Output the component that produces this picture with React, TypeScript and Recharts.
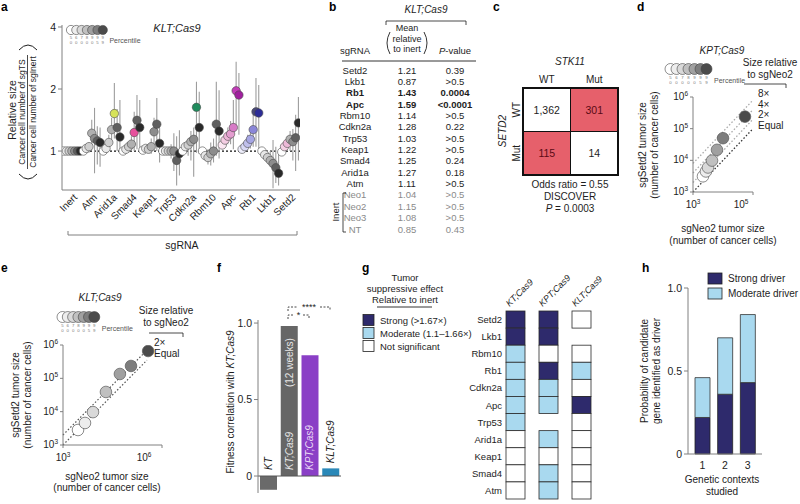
import React from 'react';
import {
  ScatterChart,
  Scatter,
  XAxis,
  YAxis,
  ErrorBar,
  ReferenceLine,
  BarChart,
  Bar,
  Cell,
  LabelList,
} from 'recharts';

const FONT = '"Liberation Sans", Arial, Helvetica, sans-serif';
const INK = '#1d1d1d';
const AXIS = '#808080';

// ---- a: relative tumour size per sgRNA at each percentile (KLT;Cas9)
const genesA = ['Inert', 'Atm', 'Arid1a', 'Smad4', 'Keap1', 'Trp53', 'Cdkn2a', 'Rbm10', 'Apc', 'Rb1', 'Lkb1', 'Setd2'];
const percentiles = [50, 60, 70, 80, 90, 95, 99];
const relSize = [
  [1, 1, 1, 1, 1, 1, 1],
  [1.0, 1.03, 1.05, 1.22, 1.15, 1.12, 1.1],
  [1.0, 1.03, 1.1, 1.27, 1.52, 1.3, 1.17],
  [1.0, 1.02, 1.05, 1.08, 1.23, 1.41, 1.3],
  [1.01, 1.03, 1.02, 1.05, 1.24, 1.35, 1.09],
  [1.0, 1.0, 1.0, 1.0, 1.0, 0.9, 0.97],
  [1.0, 1.05, 1.07, 1.11, 1.14, 1.63, 1.3],
  [1.0, 0.95, 0.93, 0.97, 1.0, 1.35, 1.25],
  [1.07, 1.13, 1.18, 1.21, 1.3, 1.96, 1.87],
  [1.02, 1.05, 1.09, 1.14, 1.27, 1.55, 1.53],
  [1.0, 0.96, 0.93, 0.9, 0.87, 0.83, 0.78],
  [0.99, 1.05, 1.09, 1.14, 1.11, 1.16, 1.37],
];
const relLow = [
  [1, 1, 1, 1, 1, 1, 1],
  [1.0, 1.0, 0.98, 1.02, 0.78, 0.86, 0.84],
  [1.0, 0.98, 1.0, 1.08, 1.15, 1.0, 0.98],
  [1.0, 0.98, 0.98, 1.0, 1.0, 1.02, 1.0],
  [1.0, 1.0, 0.99, 0.97, 1.02, 1.0, 0.88],
  [1.0, 0.98, 0.96, 0.92, 0.8, 0.68, 0.76],
  [1.0, 0.98, 0.95, 0.9, 0.75, 0.98, 0.97],
  [1.0, 0.9, 0.86, 0.85, 0.88, 0.95, 0.92],
  [1.02, 1.05, 1.08, 1.08, 1.02, 1.27, 1.2],
  [0.99, 1.0, 1.02, 1.03, 1.05, 1.05, 1.02],
  [1.0, 0.92, 0.88, 0.84, 0.66, 0.7, 0.68],
  [0.97, 0.98, 1.0, 1.0, 0.9, 0.8, 0.9],
];
const relHigh = [
  [1, 1, 1, 1, 1, 1, 1],
  [1.0, 1.06, 1.1, 1.42, 1.62, 1.32, 1.3],
  [1.0, 1.08, 1.2, 1.45, 2.14, 1.6, 1.77],
  [1.0, 1.05, 1.1, 1.18, 1.55, 1.87, 1.77],
  [1.04, 1.06, 1.06, 1.15, 1.45, 1.81, 1.3],
  [1.0, 1.02, 1.04, 1.08, 1.22, 1.18, 1.26],
  [1.0, 1.1, 1.15, 1.25, 1.3, 2.17, 1.94],
  [1.0, 1.0, 1.02, 1.1, 1.15, 2.17, 1.97],
  [1.12, 1.2, 1.3, 1.4, 1.77, 2.71, 2.39],
  [1.06, 1.1, 1.2, 1.3, 1.6, 2.26, 2.09],
  [1.0, 1.0, 1.0, 1.0, 1.13, 1.05, 1.0],
  [1.02, 1.12, 1.18, 1.25, 1.28, 1.5, 1.83],
];

// ---- b: summary table
const tableGenes = ['Setd2', 'Lkb1', 'Rb1', 'Apc', 'Rbm10', 'Cdkn2a', 'Trp53', 'Keap1', 'Smad4', 'Arid1a', 'Atm', 'Neo1', 'Neo2', 'Neo3', 'NT'];
const tableMeans = [1.21, 0.87, 1.43, 1.59, 1.14, 1.28, 1.03, 1.22, 1.25, 1.27, 1.11, 1.04, 1.15, 1.08, 0.85];
const tablePs = ['0.39', '>0.5', '0.0004', '<0.0001', '>0.5', '0.22', '>0.5', '>0.5', '0.24', '0.18', '>0.5', '>0.5', '>0.5', '>0.5', '0.43'];
const boldGenes = ['Rb1', 'Apc'];
const inertGenes = ['Neo1', 'Neo2', 'Neo3', 'NT'];

// ---- c: STK11 x SETD2 co-occurrence
const oddsStates = ['WT', 'Mut'];
const oddsCounts = [
  [1362, 301],
  [115, 14],
];

// ---- d / e: sgSetd2 vs sgNeo2 tumour size at each percentile
const neoKPT = [2150, 2700, 3160, 4300, 6300, 10000, 54000];
const setdKPT = [3130, 4460, 5940, 9800, 21500, 50000, 240000];
const ratiosKPT = [1, 2, 4, 8];
const neoKLT = [2850, 4640, 8100, 20000, 53000, 115000, 380000];
const setdKLT = [2820, 4580, 9700, 39000, 135000, 235000, 660000];
const ratiosKLT = [1, 2];

// ---- f: fitness correlation
const fitnessNames = ['KT', 'KT;Cas9', 'KPT;Cas9', 'KLT;Cas9'];
const fitnessValues = [-0.09, 0.98, 0.79, 0.05];

// ---- g: effect heatmap (2 strong, 1 moderate, 0 not significant, null not tested)
const heatGenes = ['Setd2', 'Lkb1', 'Rbm10', 'Rb1', 'Cdkn2a', 'Apc', 'Trp53', 'Arid1a', 'Keap1', 'Smad4', 'Atm'];
const heatModels = ['KT;Cas9', 'KPT;Cas9', 'KLT;Cas9'];
const heatKT = [2, 2, 1, 1, 1, 1, 1, 0, 0, 0, 0];
const heatKPT = [2, 2, 0, 2, 1, 1, null, 1, 0, 1, 1];
const heatKLT = [0, null, 0, 1, 0, 2, 0, 0, 0, 0, 0];

// ---- h: driver probability vs contexts
const contexts = ['1', '2', '3'];
const strongProb = [0.22, 0.36, 0.43];
const moderateProb = [0.24, 0.34, 0.41];

// colours
const greyRamp = ['#ffffff', '#e8e8e8', '#cfcfcf', '#b0b0b0', '#8c8c8c', '#5f5f5f', '#2a2a2a'];
const softRamp = ['#ffffff', '#ededed', '#d9d9d9', '#c0c0c0', '#a0a0a0', '#7d7d7d', '#4b4b4b'];
const tint = (i: number, c: string) => greyRamp.map((g, k) => (k === i ? c : g));
const pointColours: Record<string, string[]> = {
  Arid1a: tint(4, '#d6e25a'),
  Smad4: tint(4, '#e6519c'),
  Cdkn2a: tint(5, '#1f8b5c'),
  Apc: ['#fbe7f2', '#f4cde3', '#eeb5d9', '#e49dd0', '#d77ac6', '#c23cb8', '#a0209e'],
  Rb1: ['#eeeefb', '#d8d8f5', '#bfbfec', '#a5a5e3', '#8a86d8', '#4a4a78', '#2c2c96'],
  Setd2: greyRamp.map((g, k) => (k === 1 ? '#f4d0e4' : k === 2 ? '#ecb8d7' : g)),
};
const strongC = '#2e2a6c';
const moderateC = '#a9d9ef';
const heatFill = ['#ffffff', moderateC, strongC];
const fitColours = ['#6a6a6a', '#666666', '#8a3fc6', '#2a88b8'];

const pointsA = genesA.flatMap((g, gi) =>
  percentiles.map((p, pi) => ({
    x: gi + (pi - 3) * 0.14,
    y: relSize[gi][pi],
    err: [relSize[gi][pi] - relLow[gi][pi], relHigh[gi][pi] - relSize[gi][pi]],
    fill: (pointColours[g] || greyRamp)[pi],
  })),
);
const pointsD = neoKPT.map((n, i) => ({ x: n, y: setdKPT[i], fill: softRamp[i] }));
const pointsE = neoKLT.map((n, i) => ({ x: n, y: setdKLT[i], fill: softRamp[i] }));
const fitnessData = fitnessNames.map((name, i) => ({ name, v: fitnessValues[i] }));
const oddsCells = oddsCounts.flatMap((row, r) => row.map((n, c) => ({ col: c, row: r, n })));
const heatCells = heatGenes
  .flatMap((g, r) => [heatKT, heatKPT, heatKLT].map((arr, c) => ({ col: c, row: r, level: arr[r] })))
  .filter((d) => d.level !== null);
const driverData = contexts.map((n, i) => ({ n, strong: strongProb[i], moderate: moderateProb[i] }));

const txt = { fontFamily: FONT, fill: INK };

const GeneTick = ({ x, y, payload }: any) => (
  <text x={x + 6} y={y + 8} transform={`rotate(-45 ${x + 6} ${y + 8})`} textAnchor="end" fontSize={10} {...txt}>
    {genesA[payload.value]}
  </text>
);

const PowTickX = ({ x, y, payload }: any) => (
  <text x={x} y={y + 10.5} textAnchor="middle" fontSize={10} {...txt}>
    10<tspan dy={-4} fontSize={6.5}>{Math.round(Math.log10(payload.value))}</tspan>
  </text>
);
const PowTickY = ({ x, y, payload }: any) => (
  <text x={x} y={y + 3} textAnchor="end" fontSize={10} {...txt}>
    10<tspan dy={-4} fontSize={6.5}>{Math.round(Math.log10(payload.value))}</tspan>
  </text>
);

const DotA = ({ cx, cy, payload }: any) => (
  <circle cx={cx} cy={cy} r={4.2} fill={payload.fill} stroke="#4a4a4a" strokeWidth={0.6} />
);
const DotBig = ({ cx, cy, payload }: any) => (
  <circle cx={cx} cy={cy} r={5.8} fill={payload.fill} stroke="#5a5a5a" strokeWidth={0.7} />
);

const OddsCell = ({ cx, cy, payload }: any) => {
  const w = 95 / 2;
  const h = 87 / 2;
  const odd = payload.col !== payload.row;
  return (
    <g>
      <rect x={cx - w / 2} y={cy - h / 2} width={w} height={h} fill={odd ? '#e6606b' : '#ffffff'} stroke="#111" strokeWidth={1} />
      <text x={cx} y={cy + 4} textAnchor="middle" fontSize={10.5} fontFamily={FONT} fill={odd ? '#5a0a14' : INK}>
        {payload.n.toLocaleString('en-US')}
      </text>
    </g>
  );
};

const HeatCell = ({ cx, cy, payload }: any) => {
  const w = 19;
  const h = 188 / heatGenes.length;
  return <rect x={cx - w / 2} y={cy - h / 2} width={w} height={h} fill={heatFill[payload.level]} stroke="#2a2a2a" strokeWidth={0.8} />;
};

const FitLabel = (props: any) => {
  const { x, y, width, height, index } = props;
  const cx = x + width / 2 + 3.5;
  const top = Math.min(y, y + height);
  const zero = fitnessValues[index] < 0 ? top : Math.max(y, y + height);
  const rot = (px: number, py: number) => `rotate(-90 ${px} ${py})`;
  if (index === 0)
    return (
      <text x={cx} y={zero - 6} transform={rot(cx, zero - 6)} fontSize={10} fontStyle="italic" {...txt}>
        KT
      </text>
    );
  if (index === 1)
    return (
      <g>
        <text x={cx} y={zero - 6} transform={rot(cx, zero - 6)} fontSize={10} fontStyle="italic" fontFamily={FONT} fill="#e6e6e6">
          KT;Cas9
        </text>
        <text x={cx} y={top + 12} transform={rot(cx, top + 12)} textAnchor="end" fontSize={10} fontFamily={FONT} fill="#e6e6e6">
          (12 weeks)
        </text>
      </g>
    );
  if (index === 2)
    return (
      <text x={cx} y={zero - 6} transform={rot(cx, zero - 6)} fontSize={10} fontStyle="italic" fontFamily={FONT} fill="#ead9f6">
        KPT;Cas9
      </text>
    );
  return (
    <text x={cx} y={top - 5} transform={rot(cx, top - 5)} fontSize={10} fontStyle="italic" {...txt}>
      KLT;Cas9
    </text>
  );
};

const HeatRowTick = ({ x, y, payload }: any) => (
  <text x={x + 3} y={y + 3.5} textAnchor="end" fontSize={9.5} {...txt}>
    {heatGenes[payload.value]}
  </text>
);
const HeatColTick = ({ x, y, payload }: any) => (
  <text x={x - 6} y={y - 4} transform={`rotate(-45 ${x - 6} ${y - 4})`} fontSize={9} fontStyle="italic" {...txt}>
    {heatModels[payload.value]}
  </text>
);

const PercentileKey = ({ x, y, r, step, fs }: any) => (
  <g>
    {percentiles.map((p, i) => (
      <circle key={p} cx={x + i * step} cy={y} r={r} fill={softRamp[i]} stroke="#444" strokeWidth={0.6} />
    ))}
    {percentiles.map((p, i) => {
      const s = String(p);
      const px = x + i * step;
      return (
        <text key={`t${p}`} y={y + r + fs + 0.5} fontSize={fs} textAnchor="middle" fontFamily={FONT} fill="#777">
          <tspan x={px}>{s[0]}</tspan>
          <tspan x={px} dy={fs}>
            {s[1]}
          </tspan>
        </text>
      );
    })}
    <text x={x + 6 * step + r + 2} y={y + r + fs * 2} fontSize={7} fontFamily={FONT} fill="#555">
      Percentile
    </text>
  </g>
);

const VText = ({ x, y, fs = 10, children, ...rest }: any) => (
  <text x={x} y={y} transform={`rotate(-90 ${x} ${y})`} textAnchor="middle" fontSize={fs} fontFamily={FONT} fill={INK} {...rest}>
    {children}
  </text>
);

const Letter = ({ x, y, c }: any) => (
  <text x={x} y={y} fontSize={12} fontWeight="bold" fontFamily={FONT} fill="#000">
    {c}
  </text>
);

function Overlay() {
  const rowY = (i: number) => 73.5 + i * 11.36;
  return (
    <svg width={800} height={504} style={{ position: 'absolute', left: 0, top: 0, pointerEvents: 'none' }}>
      {['a', 'b', 'c', 'd', 'e', 'f', 'g', 'h'].map((c, i) => (
        <Letter key={c} c={c} x={[1, 329, 493, 637, 1, 217, 362, 642][i]} y={[11, 11, 11, 11, 272, 272, 272, 272][i]} />
      ))}

      {/* a */}
      <text x={177} y={32} textAnchor="middle" fontSize={11} fontStyle="italic" {...txt}>KLT;Cas9</text>
      <PercentileKey x={71} y={30} r={4.6} step={5.3} fs={4.3} />
      <VText x={16} y={110} fs={10.5}>Relative size</VText>
      <VText x={25} y={112} fs={8.5}>Cancer cell number of sgTS</VText>
      <line x1={27.5} y1={55} x2={27.5} y2={169} stroke={INK} strokeWidth={0.8} />
      <VText x={36} y={112} fs={8.5}>Cancer cell number of sgInert</VText>
      <path d="M 19 50 Q 28 40 37 50" fill="none" stroke={INK} strokeWidth={1} />
      <path d="M 19 174 Q 28 184 37 174" fill="none" stroke={INK} strokeWidth={1} />
      <path d="M 68 231 L 68 235 L 297 235 L 297 231" fill="none" stroke={AXIS} strokeWidth={1} />
      <text x={182} y={249} textAnchor="middle" fontSize={10.5} {...txt}>sgRNA</text>

      {/* b */}
      <text x={426} y={13} textAnchor="middle" fontSize={10} fontStyle="italic" {...txt}>KLT;Cas9</text>
      <path d="M 386 25 L 386 21 L 466 21 L 466 25" fill="none" stroke={INK} strokeWidth={0.8} />
      <text x={407} y={31} textAnchor="middle" fontSize={9} {...txt}>Mean</text>
      <text x={407} y={41.5} textAnchor="middle" fontSize={9} {...txt}>relative</text>
      <text x={407} y={52} textAnchor="middle" fontSize={9} {...txt}>to inert</text>
      <path d="M 390 32 Q 384 43 390 54" fill="none" stroke={INK} strokeWidth={0.9} />
      <path d="M 424 32 Q 430 43 424 54" fill="none" stroke={INK} strokeWidth={0.9} />
      <text x={355} y={54} textAnchor="middle" fontSize={9.5} {...txt}>sgRNA</text>
      <text x={455} y={54} textAnchor="middle" fontSize={9.5} {...txt}>
        <tspan fontStyle="italic">P</tspan>-value
      </text>
      <line x1={342} y1={61} x2={476} y2={61} stroke={INK} strokeWidth={0.9} />
      {tableGenes.map((g, i) => {
        const bold = boldGenes.includes(g) ? 'bold' : 'normal';
        const fill = inertGenes.includes(g) ? '#8a8a8a' : INK;
        return (
          <g key={g} fontFamily={FONT} fontSize={9.5} fontWeight={bold} fill={fill}>
            <text x={355} y={rowY(i)} textAnchor="middle">{g}</text>
            <text x={407} y={rowY(i)} textAnchor="middle">{tableMeans[i].toFixed(2)}</text>
            <text x={455} y={rowY(i)} textAnchor="middle">{tablePs[i]}</text>
          </g>
        );
      })}
      <VText x={339} y={212} fs={9.5}>Inert</VText>
      <path d="M 346 193 L 343 193 L 343 232 L 346 232" fill="none" stroke={INK} strokeWidth={0.8} />

      {/* c */}
      <text x={570} y={65} textAnchor="middle" fontSize={10} fontStyle="italic" {...txt}>STK11</text>
      {oddsStates.map((s, i) => (
        <text key={`h${s}`} x={546.75 + i * 47.5} y={83} textAnchor="middle" fontSize={10} {...txt}>{s}</text>
      ))}
      {oddsStates.map((s, i) => (
        <VText key={`v${s}`} x={520} y={109.75 + i * 43.5} fs={10}>{s}</VText>
      ))}
      <VText x={506} y={131} fs={10} fontStyle="italic">SETD2</VText>
      <rect x={523} y={88} width={95} height={87} fill="none" stroke="#111" strokeWidth={2} />
      <text x={570} y={188} textAnchor="middle" fontSize={10} {...txt}>Odds ratio = 0.55</text>
      <text x={570} y={200} textAnchor="middle" fontSize={10} {...txt}>DISCOVER</text>
      <text x={570} y={212} textAnchor="middle" fontSize={10} {...txt}>
        <tspan fontStyle="italic">P</tspan> = 0.0003
      </text>

      {/* d */}
      <text x={722} y={54} textAnchor="middle" fontSize={10} fontStyle="italic" {...txt}>KPT;Cas9</text>
      <PercentileKey x={670.5} y={69} r={5.5} step={6} fs={4.3} />
      <text x={770} y={66} textAnchor="middle" fontSize={10} {...txt}>Size relative</text>
      <text x={770} y={78} textAnchor="middle" fontSize={10} {...txt}>to sgNeo2</text>
      <path d="M 744 84 L 786 84 L 786 88" fill="none" stroke={INK} strokeWidth={0.8} />
      {['8×', '4×', '2×', 'Equal'].map((s, i) => (
        <text key={s} x={758} y={97 + i * 10.5} fontSize={10} {...txt}>{s}</text>
      ))}
      <text x={723} y={232} textAnchor="middle" fontSize={10} {...txt}>sgNeo2 tumor size</text>
      <text x={723} y={244} textAnchor="middle" fontSize={10} {...txt}>(number of cancer cells)</text>
      <VText x={646} y={145} fs={10}>sgSetd2 tumor size</VText>
      <VText x={658} y={145} fs={10}>(number of cancer cells)</VText>

      {/* e */}
      <text x={100} y={301} textAnchor="middle" fontSize={10} fontStyle="italic" {...txt}>KLT;Cas9</text>
      <PercentileKey x={62.5} y={317} r={5.5} step={5.3} fs={4.3} />
      <text x={166} y={314} textAnchor="middle" fontSize={10} {...txt}>Size relative</text>
      <text x={166} y={326} textAnchor="middle" fontSize={10} {...txt}>to sgNeo2</text>
      <path d="M 149 333 L 183 333 L 183 337" fill="none" stroke={INK} strokeWidth={0.8} />
      <text x={154} y={346} fontSize={10} {...txt}>2×</text>
      <text x={154} y={357} fontSize={10} {...txt}>Equal</text>
      <text x={107} y={480} textAnchor="middle" fontSize={10} {...txt}>sgNeo2 tumor size</text>
      <text x={107} y={491} textAnchor="middle" fontSize={10} {...txt}>(number of cancer cells)</text>
      <VText x={19} y={395} fs={10}>sgSetd2 tumor size</VText>
      <VText x={31} y={395} fs={10}>(number of cancer cells)</VText>

      {/* f */}
      <VText x={234} y={402} fs={10}>
        Fitness correlation with <tspan fontStyle="italic">KT;Cas9</tspan>
      </VText>
      <path d="M 288 311 L 288 307 L 298 307 M 320 307 L 330 307 L 330 311" fill="none" stroke={INK} strokeWidth={0.8} strokeDasharray="2 1.5" />
      <text x={309} y={310} textAnchor="middle" fontSize={9} {...txt}>****</text>
      <path d="M 288 319 L 288 315 L 294 315 M 303 315 L 309 315 L 309 319" fill="none" stroke={INK} strokeWidth={0.8} strokeDasharray="2 1.5" />
      <text x={298.5} y={318} textAnchor="middle" fontSize={9} {...txt}>*</text>

      {/* g */}
      <text x={405} y={281} textAnchor="middle" fontSize={9.5} {...txt}>Tumor</text>
      <text x={405} y={292} textAnchor="middle" fontSize={9.5} {...txt}>suppressive effect</text>
      <text x={405} y={303} textAnchor="middle" fontSize={9.5} {...txt}>Relative to inert</text>
      <line x1={377} y1={307} x2={432} y2={307} stroke={INK} strokeWidth={0.9} />
      {['Strong (>1.67×)', 'Moderate (1.1–1.66×)', 'Not significant'].map((s, i) => (
        <g key={s}>
          <rect x={363} y={314.5 + i * 13} width={11} height={11} fill={heatFill[2 - i]} stroke="#222" strokeWidth={0.8} />
          <text x={380} y={323.5 + i * 13} fontSize={9.5} {...txt}>{s}</text>
        </g>
      ))}

      {/* h */}
      <rect x={708} y={273} width={14} height={11} fill={strongC} stroke="#222" strokeWidth={0.8} />
      <text x={728} y={282} fontSize={10} {...txt}>Strong driver</text>
      <rect x={708} y={288} width={14} height={11} fill={moderateC} stroke="#222" strokeWidth={0.8} />
      <text x={728} y={297} fontSize={10} {...txt}>Moderate driver</text>
      <text x={722} y={483} textAnchor="middle" fontSize={10} {...txt}>Genetic contexts</text>
      <text x={722} y={495} textAnchor="middle" fontSize={10} {...txt}>studied</text>
      <VText x={648} y={371} fs={10}>Probability of candidate</VText>
      <VText x={660} y={371} fs={10}>gene identified as driver</VText>
    </svg>
  );
}

const at = (left: number, top: number): React.CSSProperties => ({ position: 'absolute', left, top });

export default function App() {
  const axisTick = { fontSize: 10.5, fill: INK, fontFamily: FONT };
  return (
    <div style={{ position: 'absolute', left: 0, top: 0, width: 800, height: 504, background: '#fff', overflow: 'hidden' }}>
      {/* a */}
      <div style={at(0, 0)}>
        <ScatterChart width={310} height={240} margin={{ top: 25, right: 10, bottom: 10, left: 0 }}>
          <XAxis
            type="number"
            dataKey="x"
            domain={[-0.5, 11.5]}
            ticks={genesA.map((_, i) => i)}
            interval={0}
            height={40}
            tickLine={false}
            tickSize={0}
            tickMargin={0}
            stroke={AXIS}
            tick={GeneTick}
            allowDataOverflow
          />
          <YAxis
            type="number"
            dataKey="y"
            scale="log"
            domain={[0.647, 4.09]}
            ticks={[1, 2, 4]}
            width={62}
            stroke={AXIS}
            tickSize={4}
            tick={axisTick}
            allowDataOverflow
          />
          <ReferenceLine y={1} stroke="#111" strokeDasharray="2 2" strokeWidth={1.3} />
          <Scatter data={pointsA} isAnimationActive={false} shape={() => <g />}>
            <ErrorBar dataKey="err" direction="y" width={0} stroke="#9d9d9d" strokeWidth={1.1} />
          </Scatter>
          <Scatter data={pointsA} isAnimationActive={false} shape={DotA} />
        </ScatterChart>
      </div>

      {/* c */}
      <div style={at(523, 88)}>
        <ScatterChart width={95} height={87} margin={{ top: 0, right: 0, bottom: 0, left: 0 }}>
          <XAxis type="number" dataKey="col" domain={[-0.5, 1.5]} hide />
          <YAxis type="number" dataKey="row" domain={[-0.5, 1.5]} reversed hide />
          <Scatter data={oddsCells} isAnimationActive={false} shape={OddsCell} />
        </ScatterChart>
      </div>

      {/* d */}
      <div style={at(640, 84)}>
        <ScatterChart width={125} height={141} margin={{ top: 13, right: 12, bottom: 0, left: 0 }}>
          <XAxis type="number" dataKey="x" scale="log" domain={[1e3, 1e5]} ticks={[1e3, 1e4, 1e5]} height={33} stroke={AXIS} tickSize={3} tick={PowTickX} allowDataOverflow />
          <YAxis type="number" dataKey="y" scale="log" domain={[1e3, 1e6]} ticks={[1e3, 1e4, 1e5, 1e6]} width={53} stroke={AXIS} tickSize={3} tick={PowTickY} allowDataOverflow />
          {ratiosKPT.map((r) => (
            <ReferenceLine
              key={r}
              segment={[{ x: 1e3, y: 1e3 * r }, { x: 1e5, y: 1e5 * r }]}
              stroke={r === 1 ? '#333' : '#aaa'}
              strokeDasharray="1.5 2"
              strokeWidth={1.3}
              ifOverflow="visible"
            />
          ))}
          <Scatter data={pointsD} isAnimationActive={false} shape={DotBig} />
        </ScatterChart>
      </div>

      {/* e */}
      <div style={at(0, 330)}>
        <ScatterChart width={172} height={140} margin={{ top: 15, right: 10, bottom: 0, left: 0 }}>
          <XAxis type="number" dataKey="x" scale="log" domain={[1e3, 1e6]} ticks={[1e3, 1e4, 1e5, 1e6]} height={25} stroke={AXIS} tickSize={3} tick={PowTickX} allowDataOverflow />
          <YAxis type="number" dataKey="y" scale="log" domain={[1e3, 1e6]} ticks={[1e3, 1e4, 1e5, 1e6]} width={63} stroke={AXIS} tickSize={3} tick={PowTickY} allowDataOverflow />
          {ratiosKLT.map((r) => (
            <ReferenceLine
              key={r}
              segment={[{ x: 1e3, y: 1e3 * r }, { x: 3.5e5, y: 3.5e5 * r }]}
              stroke="#555"
              strokeDasharray="1.5 2"
              strokeWidth={1.2}
              ifOverflow="visible"
            />
          ))}
          <Scatter data={pointsE} isAnimationActive={false} shape={DotBig} />
        </ScatterChart>
      </div>

      {/* f */}
      <div style={at(218, 300)}>
        <BarChart width={128} height={193} data={fitnessData} margin={{ top: 20, right: 5, bottom: 0, left: 0 }} barSize={17}>
          <XAxis dataKey="name" hide />
          <YAxis
            domain={[-0.111, 1.02]}
            ticks={[0, 0.5, 1]}
            width={40}
            stroke={AXIS}
            tickSize={4}
            tick={axisTick}
            tickFormatter={(v: number) => (v === 0 ? '0' : v.toFixed(1))}
            allowDataOverflow
          />
          <ReferenceLine y={0} stroke="#555" strokeWidth={1} />
          <Bar dataKey="v" isAnimationActive={false}>
            {fitnessData.map((d, i) => (
              <Cell key={`fit-${d.name}`} fill={fitColours[i]} />
            ))}
            <LabelList dataKey="name" content={FitLabel} />
          </Bar>
        </BarChart>
      </div>

      {/* g */}
      <div style={at(440, 262)}>
        <ScatterChart width={178} height={238} margin={{ top: 0, right: 20, bottom: 1, left: 0 }}>
          <XAxis type="number" dataKey="col" orientation="top" domain={[-0.5, 2.5]} ticks={[0, 1, 2]} height={49} axisLine={false} tickLine={false} tickSize={0} tickMargin={0} tick={HeatColTick} />
          <YAxis type="number" dataKey="row" domain={[-0.5, 10.5]} reversed ticks={heatGenes.map((_, i) => i)} interval={0} width={59} axisLine={false} tickLine={false} tickSize={0} tickMargin={0} tick={HeatRowTick} />
          <Scatter data={heatCells} isAnimationActive={false} shape={HeatCell} />
        </ScatterChart>
      </div>

      {/* h */}
      <div style={at(655, 278)}>
        <BarChart width={107} height={216} data={driverData} margin={{ top: 10, right: 0, bottom: 0, left: 0 }} barSize={15}>
          <XAxis dataKey="n" height={40} stroke={AXIS} tickLine={false} padding={{ left: 3, right: 3 }} tick={axisTick} />
          <YAxis domain={[0, 1]} ticks={[0, 0.5, 1]} width={33} stroke={AXIS} tickSize={4} tick={axisTick} tickFormatter={(v: number) => (v === 0 ? '0' : v.toFixed(1))} />
          <Bar dataKey="strong" stackId="p" fill={strongC} stroke="#222" strokeWidth={0.8} isAnimationActive={false} />
          <Bar dataKey="moderate" stackId="p" fill={moderateC} stroke="#333" strokeWidth={0.8} isAnimationActive={false} />
        </BarChart>
      </div>

      <Overlay />
    </div>
  );
}
